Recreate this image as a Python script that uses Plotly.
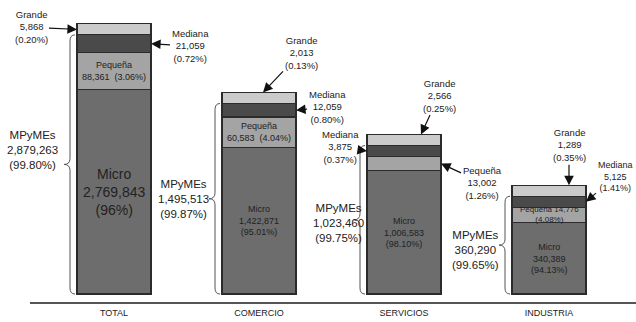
import numpy as np
import plotly.graph_objects as go

# ---- data -------------------------------------------------------------
categories = ["TOTAL", "COMERCIO", "SERVICIOS", "INDUSTRIA"]

micro = [2769843, 1422871, 1006583, 340389]
pequena = [88361, 60583, 13002, 14776]
mediana = [21059, 12059, 3875, 5125]
grande = [5868, 2013, 2566, 1289]

micro_pct = ["96%", "95.01%", "98.10%", "94.13%"]
pequena_pct = ["3.06%", "4.04%", "1.26%", "4.08%"]
mediana_pct = ["0.72%", "0.80%", "0.37%", "1.41%"]
grande_pct = ["0.20%", "0.13%", "0.25%", "0.35%"]

mpymes = [2879263, 1495513, 1023460, 360290]
mpymes_pct = ["99.80%", "99.87%", "99.75%", "99.65%"]

# ---- geometry ---------------------------------------------------------
# Segment heights use a square-root scale with a minimum band so that the
# small firm sizes remain visible next to the micro firms.
SCALE = 0.123
MIN_BAND = 11.0


def band(v):
    return max(SCALE * np.sqrt(v), MIN_BAND)


h_micro = [band(v) for v in micro]
h_peq = [band(v) for v in pequena]
h_med = [band(v) for v in mediana]
h_gr = [band(v) for v in grande]

c1 = np.array(h_micro)
c2 = c1 + np.array(h_peq)
c3 = c2 + np.array(h_med)
c4 = c3 + np.array(h_gr)

W, H = 636, 322
PX_PER_CAT = 145.0   # horizontal pixels per category
X0_PX = 114.0        # pixel centre of the first category
Y0_PX = 294.0        # pixel row of the bar base
BAR_W = 74.0 / PX_PER_CAT


def xd(px):
    return (px - X0_PX) / PX_PER_CAT


def yd(py):
    return Y0_PX - py


def dx(px):
    return px / PX_PER_CAT


FONT = "Liberation Sans, Arial, sans-serif"
TXT = "#222222"

COL_MICRO = "#6d6d6d"
COL_PEQ = "#a4a4a4"
COL_MED = "#4a4a4a"
COL_GR = "#cbcbcb"
EDGE = "#2b2b2b"

fig = go.Figure()
for name, h, col in [("Micro", h_micro, COL_MICRO), ("Pequeña", h_peq, COL_PEQ),
                     ("Mediana", h_med, COL_MED), ("Grande", h_gr, COL_GR)]:
    fig.add_trace(go.Bar(
        x=categories, y=h, name=name, width=BAR_W,
        marker=dict(color=col, line=dict(color=EDGE, width=1.2)),
        hoverinfo="skip",
    ))

ann = []


def fmt(v):
    return f"{v:,}"


# ---- labels inside the bars ------------------------------------------
for i in range(4):
    txt = f"Micro<br>{fmt(micro[i])}<br>({micro_pct[i]})"
    size = 14 if i == 0 else 9
    ann.append(dict(x=i, y=c1[i] / 2, xref="x", yref="y", text=txt, showarrow=False,
                    font=dict(family=FONT, size=size, color=TXT), align="center"))

# Pequeña labels that fit inside the segment
inside_peq = {
    0: f"Pequeña<br>{fmt(pequena[0])}  ({pequena_pct[0]})",
    1: f"Pequeña<br>{fmt(pequena[1])}  ({pequena_pct[1]})",
    3: f"Pequeña {fmt(pequena[3])}<br>({pequena_pct[3]})",
}
for i, txt in inside_peq.items():
    ann.append(dict(x=i, y=(c1[i] + c2[i]) / 2, xref="x", yref="y", text=txt,
                    showarrow=False, align="center",
                    font=dict(family=FONT, size=9 if i < 3 else 8, color=TXT)))

# ---- callouts with arrows --------------------------------------------
ARROW = dict(showarrow=True, arrowhead=2, arrowsize=1.6, arrowwidth=1.2,
             arrowcolor="#111111", standoff=0, startstandoff=0,
             xref="x", yref="y", align="center")


def callout(x, y, text, ax, ay, size=9.5):
    d = dict(ARROW)
    d.update(x=x, y=y, text=text, ax=ax, ay=ay,
             font=dict(family=FONT, size=size, color=TXT))
    ann.append(d)


def lbl(name, v, p):
    return f"{name}<br>{fmt(v)}<br>({p})"


# TOTAL
callout(0 - BAR_W / 2, (c3[0] + c4[0]) / 2, lbl("Grande", grande[0], grande_pct[0]), -46, -2)
callout(0 + BAR_W / 2, (c2[0] + c3[0]) / 2, lbl("Mediana", mediana[0], mediana_pct[0]), 39, 2)
# COMERCIO
callout(1 + dx(4), c4[1], lbl("Grande", grande[1], grande_pct[1]), 38, -40)
callout(1 + BAR_W / 2, (c2[1] + c3[1]) / 2, lbl("Mediana", mediana[1], mediana_pct[1]), 31, -3)
# SERVICIOS
callout(2 + dx(17), c4[2], lbl("Grande", grande[2], grande_pct[2]), 18, -39)
callout(2 - BAR_W / 2, (c2[2] + c3[2]) / 2, lbl("Mediana", mediana[2], mediana_pct[2]), -27, -4)
callout(2 + BAR_W / 2, (c1[2] + c2[2]) / 2, lbl("Pequeña", pequena[2], pequena_pct[2]), 41, 19)
# INDUSTRIA
callout(3 + dx(20), c4[3], lbl("Grande", grande[3], grande_pct[3]), 0, -40)
callout(3 + BAR_W / 2, (c2[3] + c3[3]) / 2, lbl("Mediana", mediana[3], mediana_pct[3]), 29, -25,
        size=9)

# ---- MPyMEs braces ----------------------------------------------------
shapes = []
mp_label_px = [(32, 150), (183, 199), (338, 223), (475, 250)]
for i in range(4):
    left = i - BAR_W / 2
    xr = left - dx(2)
    xm = left - dx(7)
    xl = left - dx(13)
    yt = c3[i]
    yb = 0.0
    ym = (yt + yb) / 2
    r = 6.0
    path = (f"M {xr},{yt} Q {xm},{yt} {xm},{yt - r} "
            f"L {xm},{ym + r} Q {xm},{ym} {xl},{ym} "
            f"Q {xm},{ym} {xm},{ym - r} "
            f"L {xm},{yb + r} Q {xm},{yb} {xr},{yb}")
    shapes.append(dict(type="path", path=path, xref="x", yref="y",
                       line=dict(color="#555555", width=1)))
    px, py = mp_label_px[i]
    ann.append(dict(x=xd(px), y=yd(py), xref="x", yref="y", showarrow=False,
                    text=f"MPyMEs<br>{fmt(mpymes[i])}<br>({mpymes_pct[i]})",
                    align="center", font=dict(family=FONT, size=11.5, color=TXT)))

fig.update_layout(
    width=W, height=H,
    margin=dict(l=30, r=0, t=0, b=20),
    paper_bgcolor="white", plot_bgcolor="white",
    barmode="stack", showlegend=False,
    annotations=ann, shapes=shapes,
    xaxis=dict(type="category", range=[xd(30), xd(W)], showgrid=False,
               zeroline=False, showline=True, linewidth=2, linecolor="#555555",
               ticks="", ticklabelstandoff=1,
               tickfont=dict(family=FONT, size=9, color=TXT), fixedrange=True),
    yaxis=dict(range=[yd(302), yd(0)], visible=False, fixedrange=True),
)

fig.write_html("out.html")
